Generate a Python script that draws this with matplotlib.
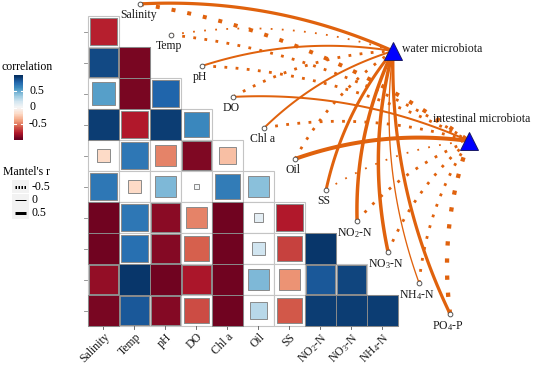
import numpy as np
import matplotlib as mpl
import matplotlib.pyplot as plt
from matplotlib.patches import Rectangle

plt.rcParams['font.family'] = 'Liberation Serif'
plt.rcParams['mathtext.fontset'] = 'custom'
plt.rcParams['mathtext.rm'] = 'Liberation Serif'
plt.rcParams['mathtext.default'] = 'regular'
plt.rcParams['lines.scale_dashes'] = False

# environmental factors (rows/columns of the matrix and link nodes)
env_vars = ['Salinity', 'Temp', 'pH', 'DO', 'Chl a', 'Oil', 'SS',
            'NO$_2$-N', 'NO$_3$-N', 'NH$_4$-N', 'PO$_4$-P']

# lower triangle of the correlation matrix, row k = env_vars[k] vs env_vars[:k]
corr_rows = [
    [-0.78],
    [0.90, -0.95],
    [0.55, -0.95, 0.80],
    [0.95, -0.80, 0.95, 0.65],
    [-0.20, 0.72, -0.50, -0.93, -0.30],
    [0.72, -0.20, 0.45, 0.03, 0.70, 0.42],
    [-0.97, 0.72, -0.90, -0.50, -0.97, 0.10, -0.80],
    [-0.97, 0.75, -0.92, -0.60, -0.97, 0.20, -0.68, 0.97],
    [-0.88, 0.97, -0.97, -0.82, -0.97, 0.45, -0.45, 0.85, 0.92],
    [-0.95, 0.85, -0.92, -0.65, -0.97, 0.28, -0.62, 0.95, 0.95, 0.95],
]

targets = ['water microbiota', 'intestinal microbiota']
# Mantel's r per env factor (negative drawn dotted)
mantel_water = [0.55, -0.20, 0.25, -0.45, 0.25, -0.45, 0.50, 0.62, 0.62, 0.08, 0.55]
mantel_intestinal = [-0.75, -0.45, -0.45, 0.25, -0.45, 0.75, -0.20, -0.45, -0.45, -0.45, -0.82]

cbar_ticks = [0.5, 0, -0.5]
mantel_legend = [-0.5, 0, 0.5]

W, H = 533, 368
CELL = 31.0
X0, Y0 = 103.5, 31.5  # pixel centre of the top-left cell
ORANGE = '#E0620D'


def px(xp, yp):
    return (xp - X0) / CELL, 9 - (yp - Y0) / CELL


def lw_px(v):
    return v * 0.72


def curve(p0, p1, rad=0.12, n=80):
    p0, p1 = np.asarray(p0), np.asarray(p1)
    d = p1 - p0
    ctrl = (p0 + p1) / 2 + rad * np.array([-d[1], d[0]])
    t = np.linspace(0, 1, n)[:, None]
    return (1 - t) ** 2 * p0 + 2 * (1 - t) * t * ctrl + t ** 2 * p1


fig = plt.figure(figsize=(W / 100, H / 100), dpi=100)
ax = fig.add_axes([0, 0, 1, 1])
xa, ya = px(0, H)
xb, yb = px(W, 0)
ax.set_xlim(xa, xb)
ax.set_ylim(ya, yb)
ax.axis('off')

cmap = plt.get_cmap('RdBu')
norm = mpl.colors.Normalize(-1, 1)

# correlation matrix
n = len(corr_rows)
for k, row in enumerate(corr_rows, start=1):
    y = n - k
    for j, r in enumerate(row):
        ax.add_patch(Rectangle((j - 0.5, y - 0.5), 1, 1, fc='white',
                               ec='#C4C4C4', lw=0.8, zorder=1))
        s = np.sqrt(abs(r))
        ax.add_patch(Rectangle((j - s / 2, y - s / 2), s, s, fc=cmap(norm(r)),
                               ec='#8A8A8A', lw=0.7, zorder=2))

# axis ticks
for j in range(n):
    ax.plot([j, j], [-0.5, -0.5 - 3 / CELL], color='#555555', lw=0.6, zorder=1)
    ax.text(j, -0.5 - 5 / CELL, env_vars[j], rotation=45, rotation_mode='anchor',
            ha='right', va='top', fontsize=8.5, color='#1a1a1a')
for k in range(n):
    ax.plot([-0.5 - 4 / CELL, -0.5 - 1 / CELL], [k, k], color='#888888', lw=0.6)

# link nodes
node_x = 1.18 + np.arange(len(env_vars))
node_y = 9.89 - np.arange(len(env_vars))
tgt_pos = [px(393, 51), px(469, 141)]

for tpos, rs in zip(tgt_pos, [mantel_water, mantel_intestinal]):
    for i, r in enumerate(rs):
        pts = curve((node_x[i], node_y[i]), tpos)
        w = lw_px(1 + 4 * abs(r))
        if r < 0:
            ax.plot(pts[:, 0], pts[:, 1], color=ORANGE, lw=w,
                    linestyle=(0, (w, max(3 * w, 8 - w))), solid_capstyle='butt',
                    zorder=3)
        else:
            ax.plot(pts[:, 0], pts[:, 1], color=ORANGE, lw=w,
                    solid_capstyle='butt', zorder=3)

ax.plot(node_x, node_y, 'o', ms=3.4, mfc='white', mec='#555555', mew=0.7, zorder=5)
for i, name in enumerate(env_vars):
    ax.text(node_x[i] - 2 / CELL, node_y[i] - 5 / CELL, name, ha='center', va='top',
            fontsize=8.5, color='#1a1a1a', zorder=6)

for tpos in tgt_pos:
    ax.plot(*tpos, marker='^', ms=13, mfc='#0000FF', mec='#1a1a66', mew=0.7, zorder=5)
ax.text(*px(402, 49), targets[0], ha='left', va='center', fontsize=8.5, color='#1a1a1a')
ax.text(*px(433, 119), targets[1], ha='left', va='center', fontsize=8.5, color='#1a1a1a')

# colour legend
fig.text(2 / W, 1 - 67 / H, 'correlation', ha='left', va='center', fontsize=8.5)
cax = fig.add_axes([14 / W, 1 - 140 / H, 9 / W, 65 / H])
grad = np.linspace(-1, 1, 40)[:, None]
cax.imshow(grad, cmap=cmap, norm=norm, aspect='auto', origin='lower',
           extent=[0, 1, -1, 1])
for v in cbar_ticks:
    cax.plot([0, 0.2], [v, v], color='white', lw=0.8)
    cax.plot([0.8, 1], [v, v], color='white', lw=0.8)
    yp = 107.5 - v * 32.5
    fig.text(29 / W, 1 - yp / H, f'{v:g}', ha='left', va='center', fontsize=8.5)
cax.set_xlim(0, 1)
cax.set_ylim(-1, 1)
cax.axis('off')

# Mantel's r legend
ax.text(*px(3, 172), "Mantel's r", ha='left', va='center', fontsize=8.5)
for m, yp in zip(mantel_legend, [187, 200, 213]):
    ax.add_patch(Rectangle(px(12, yp + 6.5), 17 / CELL, 13 / CELL, fc='#F2F2F2',
                           ec='none', zorder=1))
    (x1, y1), (x2, _) = px(15, yp), px(26, yp)
    w = lw_px(1 + 4 * abs(m))
    if m < 0:
        ax.plot([x1, x2], [y1, y1], color='black', lw=w,
                linestyle=(0, (w * 0.5, w * 0.5)), zorder=2)
    else:
        ax.plot([x1, x2], [y1, y1], color='black', lw=w, solid_capstyle='butt', zorder=2)
    ax.text(*px(32, yp), f'{m:g}', ha='left', va='center', fontsize=8.5)

fig.savefig('out.png', dpi=100)
